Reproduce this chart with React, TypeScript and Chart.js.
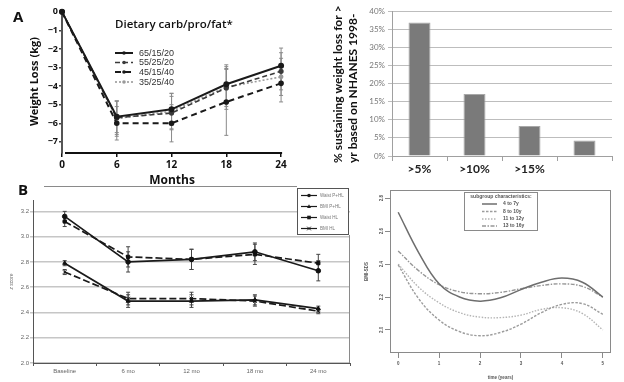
import React, { useEffect, useRef } from 'react';
import { Chart, registerables } from 'chart.js';

Chart.register(...registerables);

const PAGE_W = 624;
const PAGE_H = 382;

const FONT_A = '"Open Sans", "DejaVu Sans", sans-serif';
const FONT_BAR = 'Lato, "Open Sans", sans-serif';
const FONT_SM = '"Liberation Sans", Arial, sans-serif';

Chart.defaults.font.family = FONT_SM;

// ---------------- Panel A: weight loss by diet ----------------
const monthsA = [0, 6, 12, 18, 24];
const yTicksA = [0, -1, -2, -3, -4, -5, -6, -7];
const dietLabels = ['65/15/20', '55/25/20', '45/15/40', '35/25/40'];
const loss65_15_20 = [0, -5.65, -5.25, -3.9, -2.9];
const loss55_25_20 = [0, -5.7, -5.45, -4.1, -3.2];
const loss45_15_40 = [0, -6.0, -6.0, -4.85, -3.85];
const loss35_25_40 = [0, -5.75, -5.35, -4.05, -3.5];
const err65_15_20 = [0, 0.85, 0.87, 0.95, 0.95];
const err55_25_20 = [0, 0.9, 0.9, 1.0, 1.0];
const err45_15_40 = [0, 0.9, 1.0, 1.8, 1.0];
const err35_25_40 = [0, 0.95, 0.95, 1.2, 1.0];

// ---------------- Panel top-right: NHANES bars ----------------
const barCategories = ['>5%', '>10%', '>15%', ''];
const barValues = [36.8, 17.1, 8.3, 4.3];
const barTickLabels = ['0%', '5%', '10%', '15%', '20%', '25%', '30%', '35%', '40%'];
const barTitleLines = ['% sustaining weight loss for >', 'yr based on NHANES 1998-'];

// ---------------- Panel B: z scores ----------------
const timeLabelsB = ['Baseline', '6 mo', '12 mo', '18 mo', '24 mo'];
const yTicksB = [2.0, 2.2, 2.4, 2.6, 2.8, 3.0, 3.2];
const seriesNamesB = ['Waist P+HL', 'BMI P+HL', 'Waist HL', 'BMI HL'];
const waistPHL = [3.16, 2.80, 2.82, 2.88, 2.73];
const bmiPHL = [2.79, 2.49, 2.49, 2.50, 2.43];
const waistHL = [3.12, 2.84, 2.82, 2.86, 2.79];
const bmiHL = [2.72, 2.51, 2.51, 2.49, 2.41];
const errWaistPHL = [0.04, 0.08, 0.08, 0.07, 0.08];
const errBmiPHL = [0.02, 0.05, 0.05, 0.04, 0.02];
const errWaistHL = [0.04, 0.08, 0.08, 0.08, 0.07];
const errBmiHL = [0.02, 0.05, 0.05, 0.04, 0.02];

// ---------------- Panel bottom-right: BMI-SDS curves ----------------
const timeBR = [0, 0.5, 1, 1.5, 2, 2.5, 3, 3.5, 4, 4.5, 5];
const xTicksBR = [0, 1, 2, 3, 4, 5];
const yTicksBR = [2.0, 2.2, 2.4, 2.6, 2.8];
const subgroupLabels = ['4 to 7y', '8 to 10y', '11 to 12y', '13 to 16y'];
const sds4to7 = [2.715, 2.47, 2.28, 2.2, 2.175, 2.195, 2.245, 2.29, 2.315, 2.29, 2.2];
const sds8to10 = [2.395, 2.19, 2.06, 1.99, 1.965, 1.985, 2.035, 2.105, 2.155, 2.16, 2.095];
const sds11to12 = [2.4, 2.26, 2.165, 2.105, 2.078, 2.075, 2.09, 2.125, 2.135, 2.1, 2.0];
const sds13to16 = [2.48, 2.36, 2.275, 2.232, 2.22, 2.228, 2.25, 2.27, 2.28, 2.265, 2.2];

const baseOptions = {
  responsive: false,
  animation: false,
  devicePixelRatio: 1,
  events: [],
  plugins: {
    legend: { display: false },
    tooltip: { enabled: false },
    title: { display: false },
  },
};

function drawMarker(ctx: CanvasRenderingContext2D, style: string, x: number, y: number, r: number, color: string) {
  ctx.save();
  ctx.fillStyle = color;
  ctx.strokeStyle = color;
  ctx.setLineDash([]);
  ctx.lineWidth = 1;
  ctx.beginPath();
  if (style === 'circle') {
    ctx.arc(x, y, r, 0, Math.PI * 2);
    ctx.fill();
  } else if (style === 'rect') {
    ctx.fillRect(x - r, y - r, 2 * r, 2 * r);
  } else if (style === 'triangle') {
    ctx.moveTo(x, y - r * 1.2);
    ctx.lineTo(x + r * 1.1, y + r * 0.8);
    ctx.lineTo(x - r * 1.1, y + r * 0.8);
    ctx.closePath();
    ctx.fill();
  } else if (style === 'crossRot') {
    ctx.moveTo(x - r, y - r);
    ctx.lineTo(x + r, y + r);
    ctx.moveTo(x + r, y - r);
    ctx.lineTo(x - r, y + r);
    ctx.stroke();
  }
  ctx.restore();
}

function drawSample(ctx: CanvasRenderingContext2D, ds: any, x1: number, x2: number, y: number, markerR: number) {
  ctx.save();
  ctx.strokeStyle = ds.borderColor;
  ctx.lineWidth = ds.borderWidth;
  ctx.setLineDash(ds.borderDash || []);
  ctx.beginPath();
  ctx.moveTo(x1, y);
  ctx.lineTo(x2, y);
  ctx.stroke();
  ctx.restore();
  if (markerR > 0 && ds.pointStyle) drawMarker(ctx, ds.pointStyle, (x1 + x2) / 2, y, markerR, ds.borderColor);
}

const errorBarPlugin = {
  id: 'errorBars',
  beforeDatasetsDraw(chart: any) {
    const ctx = chart.ctx as CanvasRenderingContext2D;
    const ys = chart.scales.y;
    chart.data.datasets.forEach((ds: any, i: number) => {
      const errs = ds.errors;
      if (!errs) return;
      const meta = chart.getDatasetMeta(i);
      ctx.save();
      ctx.strokeStyle = ds.errColor || '#555';
      ctx.lineWidth = ds.errWidth || 1;
      ctx.setLineDash([]);
      meta.data.forEach((pt: any, j: number) => {
        const e = errs[j];
        if (!e) return;
        const raw = ds.data[j];
        const v = typeof raw === 'number' ? raw : raw.y;
        const y1 = ys.getPixelForValue(v + e);
        const y2 = ys.getPixelForValue(v - e);
        const x = pt.x;
        const cap = ds.errCap || 2;
        ctx.beginPath();
        ctx.moveTo(x, y1);
        ctx.lineTo(x, y2);
        ctx.moveTo(x - cap, y1);
        ctx.lineTo(x + cap, y1);
        ctx.moveTo(x - cap, y2);
        ctx.lineTo(x + cap, y2);
        ctx.stroke();
      });
      ctx.restore();
    });
  },
};

// ---------------- Panel A config ----------------
function buildPanelA() {
  const mk = (label: string, values: number[], errs: number[], style: any) => ({
    label,
    data: monthsA.map((m, i) => ({ x: m, y: values[i] })),
    errors: errs,
    fill: false,
    tension: 0,
    errColor: '#8a8a8a',
    errCap: 2,
    clip: 6,
    ...style,
  });
  const extras = {
    id: 'panelAExtras',
    afterDraw(chart: any) {
      const ctx = chart.ctx as CanvasRenderingContext2D;
      const ca = chart.chartArea;
      const xs = chart.scales.x;
      ctx.save();
      ctx.strokeStyle = '#111';
      ctx.lineWidth = 2;
      ctx.beginPath();
      ctx.moveTo(xs.getPixelForValue(monthsA[0]) + 3, ca.bottom);
      ctx.lineTo(xs.getPixelForValue(monthsA[monthsA.length - 1]) + 1, ca.bottom);
      ctx.stroke();

      ctx.fillStyle = '#111';
      ctx.textBaseline = 'middle';
      ctx.textAlign = 'left';
      ctx.font = `bold 15px ${FONT_A}`;
      ctx.fillText('A', 13, 18);

      ctx.font = `600 11.5px ${FONT_A}`;
      ctx.fillText('Dietary carb/pro/fat*', 115, 25);

      ctx.font = `9px ${FONT_SM}`;
      ctx.fillStyle = '#333';
      const rows = [53, 62.5, 72, 82];
      chart.data.datasets.forEach((ds: any, i: number) => {
        drawSample(ctx, ds, 115, 133, rows[i], 1.8);
        ctx.fillStyle = '#333';
        ctx.fillText(ds.label, 139, rows[i] + 0.5);
      });
      ctx.restore();
    },
  };
  return {
    type: 'line',
    data: {
      datasets: [
        mk(dietLabels[0], loss65_15_20, err65_15_20, { borderColor: '#1a1a1a', borderWidth: 2, borderDash: [], pointRadius: 2, pointStyle: 'circle', pointBackgroundColor: '#1a1a1a', pointBorderColor: '#1a1a1a' }),
        mk(dietLabels[1], loss55_25_20, err55_25_20, { borderColor: '#3a3a3a', borderWidth: 1.6, borderDash: [5, 3], pointRadius: 1.8, pointStyle: 'circle', pointBackgroundColor: '#3a3a3a', pointBorderColor: '#3a3a3a' }),
        mk(dietLabels[2], loss45_15_40, err45_15_40, { borderColor: '#1a1a1a', borderWidth: 2, borderDash: [6, 4], pointRadius: 1.8, pointStyle: 'circle', pointBackgroundColor: '#1a1a1a', pointBorderColor: '#1a1a1a' }),
        mk(dietLabels[3], loss35_25_40, err35_25_40, { borderColor: '#9a9a9a', borderWidth: 1.6, borderDash: [2, 2], pointRadius: 1.6, pointStyle: 'circle', pointBackgroundColor: '#9a9a9a', pointBorderColor: '#9a9a9a' }),
      ],
    },
    options: {
      ...baseOptions,
      layout: { padding: { left: 20, top: 10, right: 342, bottom: 194 } },
      scales: {
        x: {
          type: 'linear',
          min: 0,
          max: 24.1,
          afterBuildTicks: (s: any) => { s.ticks = monthsA.map((v) => ({ value: v })); },
          afterFit: (s: any) => { s.height = 35; },
          grid: { drawOnChartArea: false, drawTicks: true, tickLength: 4, color: '#111', lineWidth: 1.5 },
          border: { display: false },
          ticks: { autoSkip: false, maxRotation: 0, padding: 2, color: '#111', font: { family: FONT_A, size: 10, weight: 'bold' } },
          title: { display: true, text: 'Months', color: '#111', font: { family: FONT_A, size: 12, weight: 'bold' }, padding: { top: 0, bottom: 0 } },
        },
        y: {
          type: 'linear',
          min: -7.6,
          max: 0.1,
          afterBuildTicks: (s: any) => { s.ticks = yTicksA.map((v) => ({ value: v })); },
          afterFit: (s: any) => { s.width = 42; },
          grid: { drawOnChartArea: false, drawTicks: true, tickLength: 3, color: '#444', lineWidth: 1.5 },
          border: { display: true, color: '#555', width: 2 },
          ticks: {
            padding: 1,
            color: '#111',
            font: { family: FONT_A, size: 9, weight: 'bold' },
            callback: (v: number) => (v < 0 ? '\u2212' + Math.abs(v) : String(v)),
          },
          title: { display: true, text: 'Weight Loss (kg)', color: '#111', font: { family: FONT_A, size: 11, weight: 'bold' }, padding: { top: 8.4, bottom: 0 } },
        },
      },
    },
    plugins: [errorBarPlugin, extras],
  };
}

// ---------------- Bar panel config ----------------
function buildPanelBar() {
  const extras = {
    id: 'barExtras',
    afterDraw(chart: any) {
      const ctx = chart.ctx as CanvasRenderingContext2D;
      ctx.save();
      ctx.font = `bold 12px ${FONT_BAR}`;
      ctx.fillStyle = '#111';
      ctx.textBaseline = 'middle';
      ctx.textAlign = 'left';
      barTitleLines.forEach((t, i) => {
        ctx.save();
        ctx.translate(338 + i * 15.5, 163);
        ctx.rotate(-Math.PI / 2);
        ctx.fillText(t, 0, 0);
        ctx.restore();
      });
      ctx.restore();
    },
  };
  return {
    type: 'bar',
    data: {
      labels: barCategories,
      datasets: [{
        data: barValues,
        backgroundColor: '#7a7a7a',
        borderColor: '#a8a8a8',
        borderWidth: 1,
        barPercentage: 0.4,
        categoryPercentage: 1,
      }],
    },
    options: {
      ...baseOptions,
      layout: { padding: { left: 362, top: 11, right: 12, bottom: 196 } },
      scales: {
        x: {
          afterFit: (s: any) => { s.height = 30; },
          grid: { offset: true, drawOnChartArea: false, drawTicks: true, tickLength: 5, color: '#a0a0a0' },
          border: { color: '#a0a0a0' },
          ticks: { autoSkip: false, maxRotation: 0, padding: 1, color: '#222', font: { family: FONT_BAR, size: 12, weight: 'bold' } },
        },
        y: {
          min: 0,
          max: 40,
          afterFit: (s: any) => { s.width = 30; },
          grid: { color: '#bdbdbd', drawTicks: true, tickLength: 4 },
          border: { color: '#a0a0a0' },
          ticks: {
            stepSize: 5,
            padding: 3,
            color: '#777',
            font: { family: FONT_BAR, size: 8 },
            callback: (_v: number, i: number) => barTickLabels[i],
          },
        },
      },
    },
    plugins: [extras],
  };
}

// ---------------- Panel B config ----------------
function buildPanelB() {
  const mk = (label: string, values: number[], errs: number[], dash: number[], pointStyle: string) => ({
    label,
    data: values,
    errors: errs,
    errColor: '#444',
    errCap: 2,
    borderColor: '#1a1a1a',
    borderWidth: 1.7,
    borderDash: dash,
    pointStyle,
    pointRadius: pointStyle === 'crossRot' ? 2.5 : 2.3,
    pointBackgroundColor: '#111',
    pointBorderColor: '#111',
    pointBorderWidth: 1,
    tension: 0,
    fill: false,
  });
  const extras = {
    id: 'panelBExtras',
    afterDraw(chart: any) {
      const ctx = chart.ctx as CanvasRenderingContext2D;
      const ca = chart.chartArea;
      ctx.save();
      ctx.fillStyle = '#111';
      ctx.textBaseline = 'middle';
      ctx.textAlign = 'left';
      ctx.font = `bold 15px ${FONT_A}`;
      ctx.fillText('B', 18, 191);

      ctx.strokeStyle = '#8a8a8a';
      ctx.lineWidth = 1;
      ctx.beginPath();
      ctx.moveTo(44, 186.5);
      ctx.lineTo(297, 186.5);
      ctx.moveTo(ca.right - 0.5, 235);
      ctx.lineTo(ca.right - 0.5, ca.bottom);
      ctx.stroke();

      // legend
      ctx.fillStyle = '#ffffff';
      ctx.fillRect(297, 188, 52, 47);
      ctx.strokeStyle = '#555';
      ctx.strokeRect(297.5, 188.5, 51, 46);
      const rows = [195.5, 206.5, 217.5, 228.5];
      chart.data.datasets.forEach((ds: any, i: number) => {
        drawSample(ctx, { ...ds, borderDash: [], borderWidth: 1.2 }, 301, 317, rows[i], 1.8);
        ctx.fillStyle = '#777';
        ctx.font = `4.5px ${FONT_SM}`;
        ctx.fillText(ds.label, 320, rows[i]);
      });
      ctx.restore();
    },
  };
  return {
    type: 'line',
    data: {
      labels: timeLabelsB,
      datasets: [
        mk(seriesNamesB[0], waistPHL, errWaistPHL, [], 'circle'),
        mk(seriesNamesB[1], bmiPHL, errBmiPHL, [], 'triangle'),
        mk(seriesNamesB[2], waistHL, errWaistHL, [7, 3], 'rect'),
        mk(seriesNamesB[3], bmiHL, errBmiHL, [7, 3], 'crossRot'),
      ],
    },
    options: {
      ...baseOptions,
      layout: { padding: { left: 4, top: 200, right: 274, bottom: 0 } },
      scales: {
        x: {
          type: 'category',
          offset: true,
          afterFit: (s: any) => { s.height = 19; },
          grid: { offset: true, drawOnChartArea: false, drawTicks: true, tickLength: 3, color: '#555' },
          border: { color: '#555' },
          ticks: { autoSkip: false, maxRotation: 0, padding: 2, color: '#666', font: { family: FONT_SM, size: 6 } },
        },
        y: {
          type: 'linear',
          min: 2.0,
          max: 3.29,
          afterBuildTicks: (s: any) => { s.ticks = yTicksB.map((v) => ({ value: v })); },
          afterFit: (s: any) => { s.width = 29; },
          grid: { color: '#c6c6c6', lineWidth: 1.5, drawTicks: true, tickLength: 3 },
          border: { color: '#555', width: 1 },
          ticks: { padding: 1, color: '#666', font: { family: FONT_SM, size: 6 }, callback: (v: number) => v.toFixed(1) },
          title: { display: true, text: 'z score', color: '#666', font: { family: FONT_SM, size: 5, style: 'italic' }, padding: { top: 5, bottom: 0 } },
        },
      },
    },
    plugins: [errorBarPlugin, extras],
  };
}

// ---------------- Bottom-right panel config ----------------
function buildPanelBMI() {
  const mk = (label: string, values: number[], color: string, dash: number[], width: number) => ({
    label,
    data: timeBR.map((t, i) => ({ x: t, y: values[i] })),
    borderColor: color,
    borderWidth: width,
    borderDash: dash,
    pointRadius: 0,
    tension: 0.4,
    fill: false,
  });
  const extras = {
    id: 'bmiExtras',
    afterDraw(chart: any) {
      const ctx = chart.ctx as CanvasRenderingContext2D;
      const ca = chart.chartArea;
      const ys = chart.scales.y;
      ctx.save();
      ctx.strokeStyle = '#8a8a8a';
      ctx.lineWidth = 1;
      ctx.setLineDash([]);
      ctx.strokeRect(ca.left + 0.5, ca.top + 0.5, ca.right - ca.left - 1, ca.bottom - ca.top - 1);

      ctx.fillStyle = '#555';
      ctx.font = `bold 4.5px ${FONT_SM}`;
      ctx.textAlign = 'center';
      ctx.textBaseline = 'middle';
      yTicksBR.forEach((v) => {
        ctx.save();
        ctx.translate(382, ys.getPixelForValue(v));
        ctx.rotate(-Math.PI / 2);
        ctx.fillText(v.toFixed(1), 0, 0);
        ctx.restore();
      });

      // legend
      ctx.fillStyle = '#ffffff';
      ctx.fillRect(464, 192, 74, 39);
      ctx.strokeStyle = '#8a8a8a';
      ctx.strokeRect(464.5, 192.5, 73, 38);
      ctx.fillStyle = '#555';
      ctx.font = `bold 5px ${FONT_SM}`;
      ctx.fillText('subgroup characteristics:', 501, 197);
      ctx.textAlign = 'left';
      const rows = [204, 211.5, 219, 226];
      chart.data.datasets.forEach((ds: any, i: number) => {
        drawSample(ctx, ds, 482, 497, rows[i], 0);
        ctx.fillStyle = '#555';
        ctx.fillText(ds.label, 503, rows[i]);
      });
      ctx.restore();
    },
  };
  return {
    type: 'line',
    data: {
      datasets: [
        mk(subgroupLabels[0], sds4to7, '#6e6e6e', [], 1.5),
        mk(subgroupLabels[1], sds8to10, '#9c9c9c', [2.5, 1.5], 1.4),
        mk(subgroupLabels[2], sds11to12, '#b4b4b4', [1.5, 1.5], 1.4),
        mk(subgroupLabels[3], sds13to16, '#969696', [4, 1.5, 1.5, 1.5], 1.4),
      ],
    },
    options: {
      ...baseOptions,
      layout: { padding: { left: 355, top: 190, right: 13, bottom: 0 } },
      scales: {
        x: {
          type: 'linear',
          min: -0.2,
          max: 5.2,
          afterBuildTicks: (s: any) => { s.ticks = xTicksBR.map((v) => ({ value: v })); },
          afterFit: (s: any) => { s.height = 29; },
          grid: { drawOnChartArea: false, drawTicks: true, tickLength: 5, color: '#8a8a8a' },
          border: { display: false },
          ticks: { autoSkip: false, maxRotation: 0, padding: 3, color: '#555', font: { family: FONT_SM, size: 4.5, weight: 'bold' } },
          title: { display: true, text: 'time (years)', color: '#555', font: { family: FONT_SM, size: 4.5, weight: 'bold' }, padding: { top: 0, bottom: 2 } },
        },
        y: {
          type: 'linear',
          min: 1.86,
          max: 2.85,
          afterBuildTicks: (s: any) => { s.ticks = yTicksBR.map((v) => ({ value: v })); },
          afterFit: (s: any) => { s.width = 35; },
          grid: { drawOnChartArea: false, drawTicks: true, tickLength: 5, color: '#8a8a8a' },
          border: { display: false },
          ticks: { display: false },
          title: { display: true, text: 'BMI-SDS', color: '#555', font: { family: FONT_SM, size: 4.5, weight: 'bold' }, padding: { top: 9, bottom: 0 } },
        },
      },
    },
    plugins: [extras],
  };
}

function ChartCanvas({ build }: { build: () => any }) {
  const ref = useRef<HTMLCanvasElement | null>(null);
  useEffect(() => {
    if (!ref.current) return;
    const chart = new Chart(ref.current, build());
    return () => chart.destroy();
  }, [build]);
  return (
    <canvas
      ref={ref}
      width={PAGE_W}
      height={PAGE_H}
      style={{ position: 'absolute', left: 0, top: 0, width: PAGE_W, height: PAGE_H }}
    />
  );
}

export default function App() {
  return (
    <div style={{ position: 'fixed', left: 0, top: 0, width: PAGE_W, height: PAGE_H, background: '#ffffff', overflow: 'hidden' }}>
      <ChartCanvas build={buildPanelB} />
      <ChartCanvas build={buildPanelBMI} />
      <ChartCanvas build={buildPanelA} />
      <ChartCanvas build={buildPanelBar} />
    </div>
  );
}
